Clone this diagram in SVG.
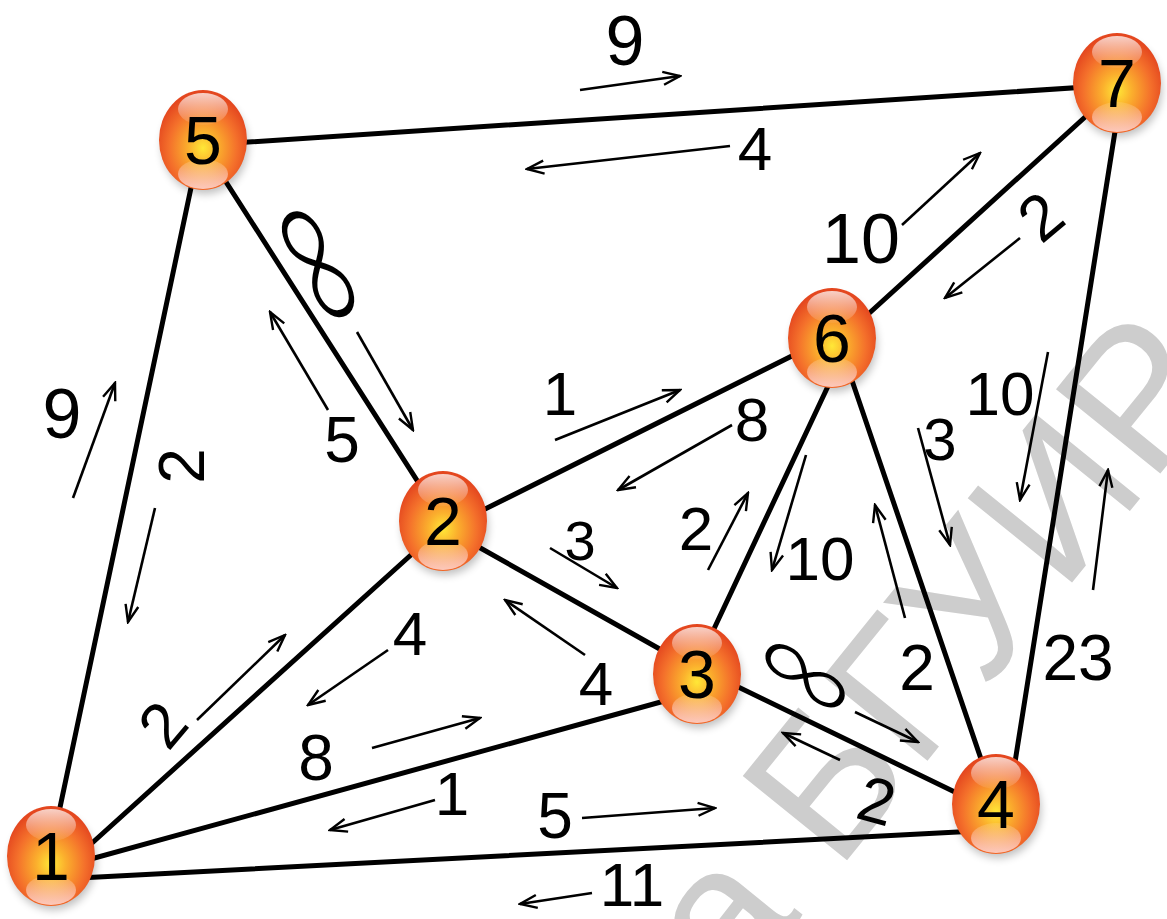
<svg xmlns="http://www.w3.org/2000/svg" width="1167" height="919" viewBox="0 0 1167 919">
<defs>
<style>
.e{stroke:#000;stroke-width:5;stroke-linecap:round;fill:none}
.a{stroke:#000;stroke-width:2.6;fill:none;marker-end:url(#ah)}
.t{font-family:"Liberation Sans",Arial,sans-serif;fill:#000;text-anchor:middle}
.inf{font-family:Lato,"DejaVu Sans",sans-serif;font-weight:300;fill:#000;text-anchor:middle}
.n{font-family:"Liberation Sans",Arial,sans-serif;font-size:68px;fill:#000;text-anchor:middle}
.w{font-family:"Liberation Sans",Arial,sans-serif;font-size:195px;fill:#cdcdcd}
.ball{fill:url(#bg)}
.hl{fill:url(#hg)}
.hb{fill:url(#hb)}
</style>
<marker id="ah" viewBox="0 0 20 16" refX="18" refY="8" markerWidth="20" markerHeight="16" orient="auto" markerUnits="userSpaceOnUse">
<path d="M1,1.5 L18,8 L1,14.5" fill="none" stroke="#000" stroke-width="2.4"/>
</marker>
<radialGradient id="bg" cx="0.5" cy="0.58" r="0.55">
<stop offset="0" stop-color="#ffe837"/>
<stop offset="0.3" stop-color="#fbb02d"/>
<stop offset="0.7" stop-color="#f4702b"/>
<stop offset="1" stop-color="#e4471f"/>
</radialGradient>
<linearGradient id="hg" x1="0" y1="0" x2="0" y2="1">
<stop offset="0" stop-color="#fff" stop-opacity="0.75"/>
<stop offset="1" stop-color="#fff" stop-opacity="0.05"/>
</linearGradient>
<linearGradient id="hb" x1="0" y1="0" x2="0" y2="1">
<stop offset="0" stop-color="#fff" stop-opacity="0.1"/>
<stop offset="1" stop-color="#ffe0e0" stop-opacity="0.8"/>
</linearGradient>
<filter id="sh" x="-30%" y="-30%" width="160%" height="160%">
<feGaussianBlur stdDeviation="4"/>
</filter>
<g id="ball">
<ellipse cx="2" cy="6" rx="43" ry="48" fill="#000" opacity="0.25" filter="url(#sh)"/>
<ellipse class="ball" cx="0" cy="0" rx="44" ry="50"/>
<ellipse class="hl" cx="0" cy="-31" rx="25" ry="16"/>
<ellipse class="hb" cx="0" cy="34" rx="25" ry="15"/>
</g>
</defs>
<rect width="1167" height="919" fill="#fff"/>

<text class="w" transform="translate(1232,385) rotate(-51)" text-anchor="end">Библиотека БГУИР</text>

<g id="connectors">
<line class="e" x1="51" y1="850" x2="199" y2="150"/>
<line class="e" x1="203" y1="145" x2="1117" y2="85"/>
<line class="e" x1="203" y1="146" x2="443" y2="521"/>
<line class="e" x1="60" y1="872" x2="443" y2="526"/>
<line class="e" x1="51" y1="870" x2="697" y2="692"/>
<line class="e" x1="60" y1="879" x2="996" y2="830"/>
<line class="e" x1="443" y1="530" x2="832" y2="336"/>
<line class="e" x1="443" y1="527" x2="697" y2="670"/>
<line class="e" x1="832" y1="347" x2="1117" y2="88"/>
<line class="e" x1="845" y1="350" x2="697" y2="665"/>
<line class="e" x1="845" y1="360" x2="995" y2="800"/>
<line class="e" x1="697" y1="667" x2="996" y2="812"/>
<line class="e" x1="1120" y1="100" x2="1009" y2="800"/>

<line class="a" x1="580" y1="90" x2="680" y2="76"/>
<line class="a" x1="730" y1="146" x2="527" y2="169"/>
<line class="a" x1="73" y1="498" x2="115" y2="383"/>
<line class="a" x1="155" y1="508" x2="128" y2="622"/>
<line class="a" x1="328" y1="410" x2="270" y2="312"/>
<line class="a" x1="357" y1="332" x2="413" y2="430"/>
<line class="a" x1="902" y1="225" x2="980" y2="153"/>
<line class="a" x1="1020" y1="238" x2="945" y2="298"/>
<line class="a" x1="555" y1="440" x2="680" y2="390"/>
<line class="a" x1="732" y1="425" x2="618" y2="490"/>
<line class="a" x1="550" y1="548" x2="617" y2="588"/>
<line class="a" x1="585" y1="655" x2="505" y2="600"/>
<line class="a" x1="197" y1="720" x2="285" y2="635"/>
<line class="a" x1="388" y1="650" x2="308" y2="705"/>
<line class="a" x1="372" y1="748" x2="480" y2="718"/>
<line class="a" x1="435" y1="800" x2="330" y2="830"/>
<line class="a" x1="582" y1="818" x2="715" y2="808"/>
<line class="a" x1="592" y1="893" x2="520" y2="904"/>
<line class="a" x1="708" y1="570" x2="748" y2="493"/>
<line class="a" x1="806" y1="455" x2="772" y2="570"/>
<line class="a" x1="918" y1="428" x2="950" y2="545"/>
<line class="a" x1="905" y1="618" x2="875" y2="505"/>
<line class="a" x1="855" y1="712" x2="918" y2="742"/>
<line class="a" x1="840" y1="760" x2="783" y2="733"/>
<line class="a" x1="1048" y1="352" x2="1020" y2="500"/>
<line class="a" x1="1093" y1="590" x2="1108" y2="470"/>

<text class="t" font-size="70" x="625" y="65">9</text>
<text class="t" font-size="62" x="755" y="170">4</text>
<text class="t" font-size="70" x="62" y="438">9</text>
<text class="t" font-size="64" transform="translate(181,466) rotate(-90)" dy="23">2</text>
<text class="inf" font-size="120" transform="translate(322,262) rotate(61) scale(1.6,1)" dy="40">∞</text>
<text class="t" font-size="64" x="342" y="462">5</text>
<text class="t" font-size="70" x="861" y="263">10</text>
<text class="t" font-size="64" transform="translate(1040,216) rotate(-40)" dy="23">2</text>
<text class="t" font-size="62" x="560" y="415">1</text>
<text class="t" font-size="62" x="752" y="441">8</text>
<text class="t" font-size="56" x="580" y="560">3</text>
<text class="t" font-size="62" x="596" y="705">4</text>
<text class="t" font-size="64" transform="translate(162,724) rotate(-50)" dy="23">2</text>
<text class="t" font-size="62" x="410" y="655">4</text>
<text class="t" font-size="64" x="316" y="780">8</text>
<text class="t" font-size="62" x="452" y="815">1</text>
<text class="t" font-size="64" x="555" y="838">5</text>
<text class="t" font-size="62" x="632" y="906">11</text>
<text class="t" font-size="62" x="696" y="550">2</text>
<text class="t" font-size="62" x="820" y="580">10</text>
<text class="t" font-size="60" x="940" y="460">3</text>
<text class="t" font-size="64" x="917" y="690">2</text>
<text class="inf" font-size="100" transform="translate(807,673) rotate(35) scale(1.5,1)" dy="33">∞</text>
<text class="t" font-size="64" transform="translate(877,800) rotate(15)" dy="23">2</text>
<text class="t" font-size="62" x="1000" y="415">10</text>
<text class="t" font-size="64" x="1078" y="680">23</text>
</g>

<g id="node1"><use href="#ball" x="51" y="856"/><text class="n" x="51" y="880">1</text></g>
<g id="node5"><use href="#ball" x="203" y="140"/><text class="n" x="203" y="164">5</text></g>
<g id="node2"><use href="#ball" x="443" y="521"/><text class="n" x="443" y="545">2</text></g>
<g id="node3"><use href="#ball" x="697" y="674"/><text class="n" x="697" y="698">3</text></g>
<g id="node6"><use href="#ball" x="832" y="338"/><text class="n" x="832" y="362">6</text></g>
<g id="node4"><use href="#ball" x="996" y="804"/><text class="n" x="996" y="828">4</text></g>
<g id="node7"><use href="#ball" x="1117" y="83"/><text class="n" x="1117" y="107">7</text></g>
</svg>
